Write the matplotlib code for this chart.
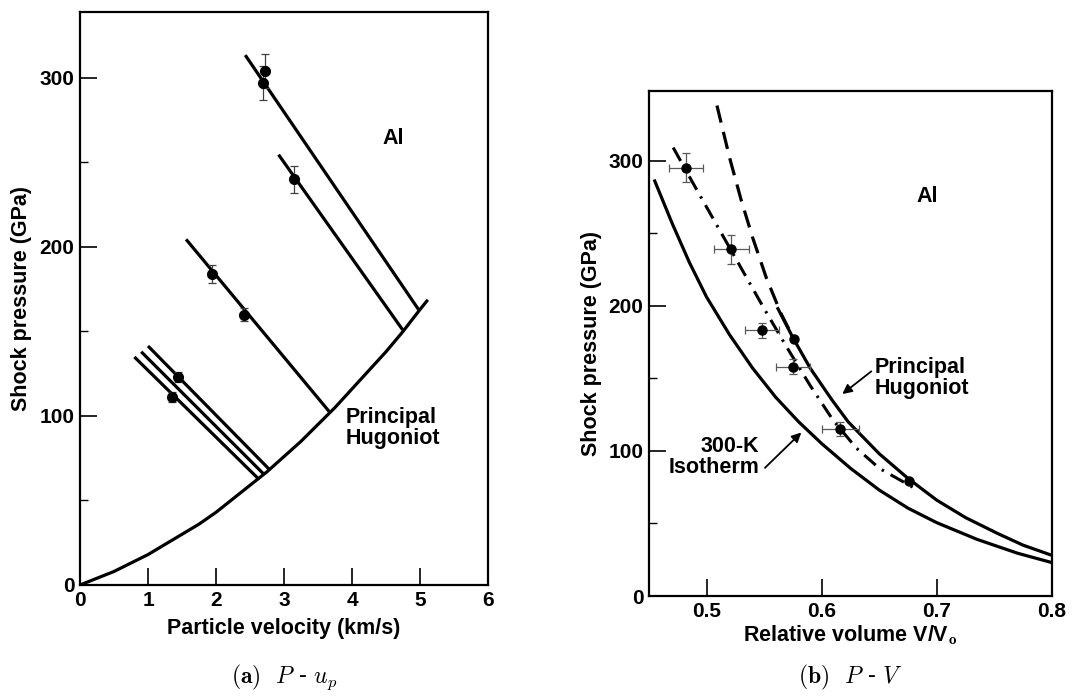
#!/usr/bin/env python3

import matplotlib
matplotlib.use('Agg')
import matplotlib.pyplot as plt

# ---- (a) P - up plane ----
hug_up = [0, 0.25, 0.5, 0.75, 1, 1.25, 1.5, 1.75, 2, 2.25, 2.5, 2.75, 3,
          3.25, 3.5, 3.75, 4, 4.25, 4.5, 4.75, 5, 5.1]
hug_P = [0, 4, 8, 13, 18, 24, 30, 36, 43, 51, 59, 67, 76,
         85, 95, 105, 116, 127, 138, 150, 163, 168]

# release lines (start up, start P, end up, end P)
rel_up0 = [2.43, 2.92, 1.56, 1.00, 0.90, 0.80]
rel_P0 = [313.5, 254.6, 204.5, 141.4, 138.0, 134.9]
rel_up1 = [4.985, 4.746, 3.665, 2.777, 2.700, 2.635]
rel_P1 = [162.6, 150.9, 102.6, 68.7, 65.7, 62.4]

pts_up = [2.685, 2.716, 3.142, 1.939, 2.411, 1.447, 1.355]
pts_P = [297, 304, 240, 184, 160, 123, 111]
pts_Perr = [10, 10, 8, 5.5, 4, 3, 3]

# ---- (b) P - V plane ----
hugV_dash = [0.509, 0.52, 0.53, 0.54, 0.552, 0.565, 0.576]
hugP_dash = [338, 302, 273, 247, 219, 194, 177]

hugV = [0.562, 0.575, 0.59, 0.609, 0.623, 0.65, 0.675, 0.70, 0.725, 0.753, 0.775, 0.80]
hugP = [198, 178, 157, 135, 120, 98, 81, 66, 54, 43, 35, 28]

isoV = [0.455, 0.47, 0.485, 0.50, 0.52, 0.54, 0.56, 0.58, 0.60, 0.625, 0.65, 0.675, 0.70, 0.735, 0.77, 0.80]
isoP = [286, 257, 230, 206, 180, 157, 137, 120, 105, 88, 73, 60.5, 50.5, 39, 29.5, 23]

fitV = [0.471, 0.49, 0.51, 0.53, 0.55, 0.57, 0.59, 0.61, 0.63, 0.65, 0.679]
fitP = [309, 282, 254, 226, 198, 171, 145, 121, 102, 88, 75]

dV = [0.482, 0.5215, 0.548, 0.575, 0.616]
dP = [295, 239, 183, 158, 115]
dVerr = [0.015, 0.015, 0.015, 0.015, 0.016]
dPerr = [10, 10, 5, 5, 5]
dV_noerr = [0.576, 0.676]
dP_noerr = [177, 79]

plt.rcParams['font.family'] = ['Liberation Sans', 'DejaVu Sans']
plt.rcParams['font.weight'] = 'bold'
plt.rcParams['mathtext.fontset'] = 'cm'

fig = plt.figure(figsize=(10.77, 7.0), dpi=100)
ax1 = fig.add_axes([80/1077, 1-585/700, 408/1077, 573/700])
ax2 = fig.add_axes([649/1077, 1-596/700, 403/1077, 505/700])

TXT = 15.5

def style(ax):
    for s in ax.spines.values():
        s.set_linewidth(1.6)
    ax.tick_params(which='major', direction='in', length=12, width=1.2,
                   labelsize=15, pad=4)
    ax.tick_params(which='minor', direction='in', length=6, width=1.0)
    ax.tick_params(axis='x', which='both', top=False)
    ax.tick_params(axis='y', which='both', right=False)
    for lab in ax.get_xticklabels() + ax.get_yticklabels():
        lab.set_fontweight('bold')

# ---------- panel a ----------
ax1.plot(hug_up, hug_P, color='black', lw=2.3)
for x0, y0, x1, y1 in zip(rel_up0, rel_P0, rel_up1, rel_P1):
    ax1.plot([x0, x1], [y0, y1], color='black', lw=2.3, solid_capstyle='butt')
ax1.errorbar(pts_up, pts_P, yerr=pts_Perr, fmt='o', color='black', ms=7,
             ecolor='0.25', elinewidth=0.9, capsize=3, capthick=0.9)
ax1.set_xlim(0, 6)
ax1.set_ylim(0, 339)
ax1.set_xticks([0, 1, 2, 3, 4, 5, 6])
ax1.set_yticks([0, 100, 200, 300])
ax1.set_yticks([50, 150, 250], minor=True)
ax1.set_xlabel('Particle velocity (km/s)', fontsize=TXT, fontweight='bold', labelpad=6)
ax1.set_ylabel('Shock pressure (GPa)', fontsize=TXT, fontweight='bold', labelpad=5)
ax1.text(4.45, 264, 'Al', fontsize=TXT, fontweight='bold', ha='left', va='center')
ax1.text(3.9, 93, 'Principal\nHugoniot', fontsize=TXT, fontweight='bold',
         ha='left', va='center', linespacing=1.0)
style(ax1)

# ---------- panel b ----------
ax2.plot(isoV, isoP, color='black', lw=2.3)
ax2.plot(hugV, hugP, color='black', lw=2.3)
ax2.plot(hugV_dash, hugP_dash, color='black', lw=2.3, linestyle=(0, (5.5, 3.0)))
ax2.plot(fitV, fitP, color='black', lw=2.2, linestyle=(0, (5.0, 2.5, 0.8, 2.5)))
ax2.errorbar(dV, dP, xerr=dVerr, yerr=dPerr, fmt='o', color='black', ms=6.5,
             ecolor='0.35', elinewidth=0.9, capsize=3, capthick=0.9)
ax2.plot(dV_noerr, dP_noerr, 'o', color='black', ms=6.5)
ax2.set_xlim(0.45, 0.8)
ax2.set_ylim(0, 348)
ax2.set_xticks([0.5, 0.6, 0.7, 0.8])
ax2.set_xticklabels(['0.5', '0.6', '0.7', '0.8'])
ax2.set_yticks([0, 100, 200, 300])
ax2.set_yticks([50, 150, 250], minor=True)
ax2.set_xlabel(r'Relative volume V/V$_\mathbf{o}$', fontsize=TXT, fontweight='bold', labelpad=2)
ax2.set_ylabel('Shock pressure (GPa)', fontsize=TXT, fontweight='bold', labelpad=5)
ax2.text(0.682, 275, 'Al', fontsize=TXT, fontweight='bold', ha='left', va='center')
ax2.text(0.646, 150, 'Principal\nHugoniot', fontsize=TXT, fontweight='bold',
         ha='left', va='center', linespacing=1.0)
ax2.annotate('', xy=(0.616, 138), xytext=(0.645, 156),
             arrowprops=dict(arrowstyle='-|>', color='black', lw=1.3, mutation_scale=14))
ax2.text(0.5456, 96, '300-K\nIsotherm', fontsize=TXT, fontweight='bold',
         ha='right', va='center', linespacing=1.0)
ax2.annotate('', xy=(0.584, 114), xytext=(0.549, 87),
             arrowprops=dict(arrowstyle='-|>', color='black', lw=1.3, mutation_scale=14))
style(ax2)

# captions
fig.text(284/1077, 1-677/700, r'$\mathbf{(a)}$  $P$ - $u_p$', fontsize=17,
         family='DejaVu Serif', fontweight='normal', ha='center', va='center')
fig.text(850/1077, 1-677/700, r'$\mathbf{(b)}$  $P$ - $V$', fontsize=17,
         family='DejaVu Serif', fontweight='normal', ha='center', va='center')

fig.savefig('out.png', dpi=100)
